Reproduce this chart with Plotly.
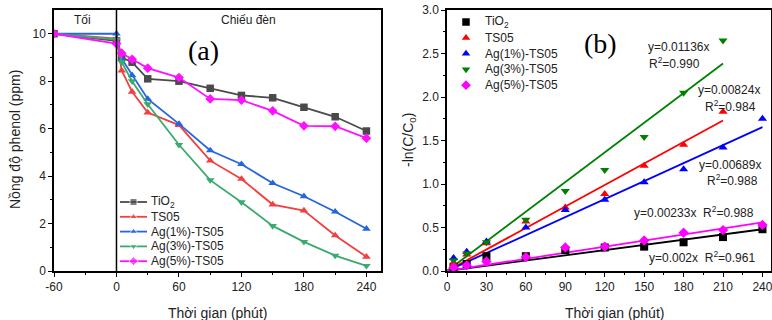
import plotly.graph_objects as go

# ---------- Panel (a) data ----------
t_a = [-60, 0, 5, 15, 30, 60, 90, 120, 150, 180, 210, 240]
a_tio2 = [10, 9.7, 9.0, 8.8, 8.1, 8.0, 7.7, 7.4, 7.3, 6.9, 6.5, 5.9]
a_ts05 = [10, 9.8, 8.45, 7.55, 6.68, 6.15, 4.65, 3.88, 2.8, 2.55, 1.5, 0.6]
a_ag1 = [10, 10, 8.95, 8.25, 7.25, 6.2, 5.08, 4.5, 3.7, 3.15, 2.5, 1.78]
a_ag3 = [10, 9.75, 8.8, 8.0, 7.03, 5.32, 3.83, 2.9, 1.9, 1.23, 0.65, 0.22]
a_ag5 = [10, 9.58, 9.18, 8.92, 8.55, 8.15, 7.25, 7.2, 6.75, 6.12, 6.1, 5.6]
a_xticks = [-60, 0, 60, 120, 180, 240]
a_xticktext = ["-60", "0", "60", "120", "180", "240"]

# ---------- Panel (b) data ----------
t_b = [5, 15, 30, 60, 90, 120, 150, 180, 210, 240]
b_tio2 = [0.05, 0.08, 0.17, 0.17, 0.24, 0.27, 0.28, 0.33, 0.39, 0.48]
b_ts05 = [0.09, 0.19, 0.32, 0.57, 0.73, 0.885, 1.21, 1.45, 1.83]
b_ag1 = [0.15, 0.22, 0.34, 0.50, 0.70, 0.82, 1.02, 1.17, 1.42, 1.75]
b_ag3 = [0.12, 0.20, 0.33, 0.59, 0.92, 1.16, 1.54, 2.05, 2.65]
b_ag5 = [0.04, 0.065, 0.11, 0.16, 0.27, 0.28, 0.35, 0.44, 0.47, 0.53]

slopes = [0.002, 0.00824, 0.00689, 0.01136, 0.00233]
fit_end = [240, 210, 240, 210, 240]

names = ["TiO<sub>2</sub>", "TS05", "Ag(1%)-TS05", "Ag(3%)-TS05", "Ag(5%)-TS05"]
symbols = ["square", "triangle-up", "triangle-up", "triangle-down", "diamond"]
colors_a = ["#4a4a4a", "#f04040", "#2565e0", "#3aaa6e", "#ff10ff"]
colors_b = ["#000000", "#ff0000", "#0000ff", "#008000", "#ff00ff"]

FONT = "Arial"
W, H = 772, 320
ytop, ybot = 10, 271
ydom = [1 - ybot / H, 1 - ytop / H]

fig = go.Figure()

a_series = [a_tio2, a_ts05, a_ag1, a_ag3, a_ag5]
for name, ys, sym, col in zip(names, a_series, symbols, colors_a):
    fig.add_trace(go.Scatter(
        x=t_a, y=ys, mode="lines+markers", name=name, showlegend=False,
        line=dict(color=col, width=1.8),
        marker=dict(symbol=sym, size=7.5, color=col),
        xaxis="x", yaxis="y"))

b_series = [b_tio2, b_ts05, b_ag1, b_ag3, b_ag5]
for k, xe, col in zip(slopes, fit_end, colors_b):
    fig.add_trace(go.Scatter(
        x=[0, xe], y=[0, k * xe], mode="lines", showlegend=False,
        line=dict(color=col, width=1.8), xaxis="x2", yaxis="y2", hoverinfo="skip"))
for name, ys, sym, col in zip(names, b_series, symbols, colors_b):
    fig.add_trace(go.Scatter(
        x=t_b[:len(ys)], y=ys, mode="markers", name=name, showlegend=False,
        marker=dict(symbol=sym, size=8, color=col),
        xaxis="x2", yaxis="y2", cliponaxis=False))

# ---------- Manual legends (pixel overlay axes) ----------
leg_a_y0, leg_a_dy = 202, 14.8
leg_b_y0, leg_b_dy = 22, 15.8
for i, (name, sym, col) in enumerate(zip(names, symbols, colors_a)):
    yy = leg_a_y0 + i * leg_a_dy
    fig.add_trace(go.Scatter(x=[120, 133.5, 147], y=[yy, yy, yy], mode="lines+markers",
                             line=dict(color=col, width=1.8),
                             marker=dict(symbol=sym, size=[0, 7, 0], color=col),
                             showlegend=False, hoverinfo="skip", xaxis="x3", yaxis="y3",
                             cliponaxis=False))
    fig.add_annotation(text=name, x=149, y=yy, xref="x3", yref="y3", xanchor="left",
                       yanchor="middle", showarrow=False,
                       font=dict(family=FONT, size=12, color="#222"))
for i, (name, sym, col) in enumerate(zip(names, symbols, colors_b)):
    yy = leg_b_y0 + i * leg_b_dy
    fig.add_trace(go.Scatter(x=[466], y=[yy], mode="markers",
                             marker=dict(symbol=sym, size=7.5, color=col),
                             showlegend=False, hoverinfo="skip", xaxis="x3", yaxis="y3",
                             cliponaxis=False))
    fig.add_annotation(text=name, x=483, y=yy, xref="x3", yref="y3", xanchor="left",
                       yanchor="middle", showarrow=False,
                       font=dict(family=FONT, size=12, color="#222"))

axis_common = dict(
    showline=True, linecolor="black", linewidth=1.5, mirror=True,
    ticks="outside", ticklen=4, tickwidth=1.2, tickcolor="black",
    showgrid=False, zeroline=False, automargin=False, ticklabeloverflow="allow",
    tickfont=dict(family=FONT, size=12, color="#222"),
    minor=dict(ticks="outside", ticklen=2, tickwidth=1.2, tickcolor="black"),
)

fig.update_layout(
    width=W, height=H,
    margin=dict(l=0, r=0, t=0, b=0, autoexpand=False),
    paper_bgcolor="white", plot_bgcolor="rgba(0,0,0,0)",
    font=dict(family=FONT, color="#222"),
    showlegend=False,
    xaxis=dict(domain=[54 / W, 381 / W], range=[-60, 254],
               tickvals=a_xticks, ticktext=a_xticktext,
               minor_tickvals=[-30, 30, 90, 150, 210],
               anchor="y", **axis_common),
    yaxis=dict(domain=ydom, range=[0, 11], tickvals=[0, 2, 4, 6, 8, 10],
               minor_tickvals=[1, 3, 5, 7, 9],
               anchor="x", **axis_common),
    xaxis2=dict(domain=[447 / W, 771 / W], range=[0, 246.5],
                tickvals=[0, 30, 60, 90, 120, 150, 180, 210, 240],
                minor_tickvals=[15, 45, 75, 105, 135, 165, 195, 225],
                anchor="y2", **axis_common),
    yaxis2=dict(domain=ydom, range=[0, 3], tickvals=[0, 0.5, 1, 1.5, 2, 2.5, 3],
                tickformat=".1f", minor_tickvals=[0.25, 0.75, 1.25, 1.75, 2.25, 2.75],
                anchor="x2", **axis_common),
    xaxis3=dict(domain=[0, 1], range=[0, W], visible=False, fixedrange=True, anchor="y3"),
    yaxis3=dict(domain=[0, 1], range=[H, 0], visible=False, fixedrange=True, anchor="x3"),
)

# Divider between dark and light periods
fig.add_shape(type="line", xref="x", yref="paper", x0=0, x1=0,
              y0=ydom[0], y1=ydom[1], line=dict(color="black", width=1.5))

ann_font = dict(family=FONT, size=12, color="#222")
title_font = dict(family=FONT, size=14, color="#222")

def pix(text, x, y, font, **kw):
    fig.add_annotation(text=text, x=x, y=y, xref="x3", yref="y3", showarrow=False,
                       font=font, **kw)

pix("Tối", 82, 20, ann_font)
pix("Chiếu đèn", 248, 20, ann_font)
pix("Thời gian (phút)", 217, 313, title_font)
pix("Thời gian (phút)", 614, 313, title_font)
pix("Nồng độ phenol (ppm)", 15, 140, title_font, textangle=-90)
pix("-ln(C/C<sub>0</sub>)", 409, 140, title_font, textangle=-90)

serif = dict(family="Liberation Serif, Times New Roman, serif", size=28, color="black")
pix("(a)", 203, 50, serif)
pix("(b)", 600, 43, serif)

eq = [
    ("y=0.01136x", 646, 47), ("R<sup>2</sup>=0.990", 647, 63),
    ("y=0.00824x", 696, 90), ("R<sup>2</sup>=0.984", 703, 106),
    ("y=0.00689x", 697, 165), ("R<sup>2</sup>=0.988", 705, 180),
    ("y=0.00233x  R<sup>2</sup>=0.988", 632, 212),
    ("y=0.002x  R<sup>2</sup>=0.961", 647, 257),
]
for txt, px, py in eq:
    pix(txt, px, py, ann_font, xanchor="left", yanchor="middle")

fig.write_html("out.html")
